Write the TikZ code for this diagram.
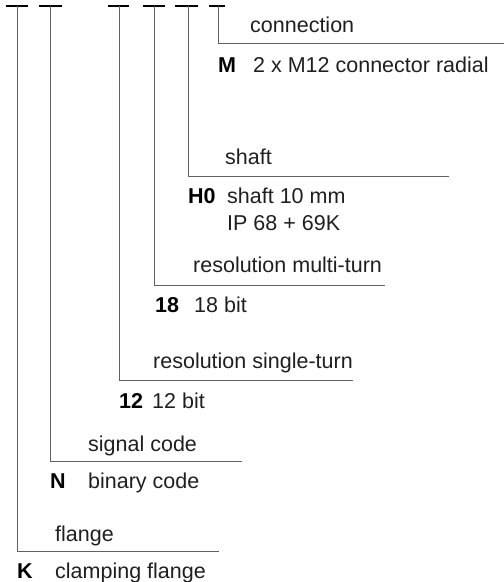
\documentclass[tikz,border=0pt]{standalone}
\usepackage{fontspec}
\setmainfont{Liberation Sans}
\begin{document}
\begin{tikzpicture}[x=1pt,y=-1pt,
  bar/.style={line width=2.8pt,black},
  vline/.style={line width=0.9pt,draw=black!62},
  txt/.style={anchor=base west,inner sep=0pt,font=\fontsize{21.5}{25}\selectfont,text=black!88},
  lbl/.style={anchor=base west,inner sep=0pt,font=\fontsize{21.5}{25}\selectfont\bfseries,text=black}]
\useasboundingbox (0,0) rectangle (504,582);
% top coordinates of the lead lines
\coordinate (t1) at (17,6);
\coordinate (t2) at (50,6);
\coordinate (t3) at (119,6);
\coordinate (t4) at (154,6);
\coordinate (t5) at (188,6);
\coordinate (t6) at (218,6);
% ends of the horizontal lines
\coordinate (e1) at (219,551);
\coordinate (e2) at (242,461);
\coordinate (e3) at (353,380);
\coordinate (e4) at (385,285);
\coordinate (e5) at (449,176);
\coordinate (e6) at (504,43);
% bars
\draw[bar] (6,6) -- (28,6);
\draw[bar] (39,6) -- (62,6);
\draw[bar] (108,6) -- (129,6);
\draw[bar] (143,6) -- (165,6);
\draw[bar] (175,6) -- (198,6);
\draw[bar] (209,6) -- (225,6);
% lead lines
\draw[vline] (t1) |- (e1);
\draw[vline] (t2) |- (e2);
\draw[vline] (t3) |- (e3);
\draw[vline] (t4) |- (e4);
\draw[vline] (t5) |- (e5);
\draw[vline] (t6) |- (e6);
% connection
\node[txt] (h6) at (250,32) {connection};
\node[lbl] (k6) at (218,72) {M};
\node[txt] (v6) at (253,72) {2 x M12 connector radial};
% shaft
\node[txt] (h5) at (225,164) {shaft};
\node[lbl] (k5) at (188,203) {H0};
\node[txt] (v5) at (227,203) {shaft 10 mm};
\node[txt] (v5b) at (227,230) {IP 68 + 69K};
% multi-turn
\node[txt] (h4) at (193,272) {resolution multi-turn};
\node[lbl] (k4) at (155,312) {18};
\node[txt] (v4) at (194,312) {18 bit};
% single-turn
\node[txt] (h3) at (153,368) {resolution single-turn};
\node[lbl] (k3) at (119,408) {12};
\node[txt] (v3) at (152,408) {12 bit};
% signal code
\node[txt] (h2) at (88,451) {signal code};
\node[lbl] (k2) at (50,488) {N};
\node[txt] (v2) at (88,488) {binary code};
% flange
\node[txt] (h1) at (55,541) {flange};
\node[lbl] (k1) at (17,578) {K};
\node[txt] (v1) at (55,578) {clamping flange};
\end{tikzpicture}
\end{document}
